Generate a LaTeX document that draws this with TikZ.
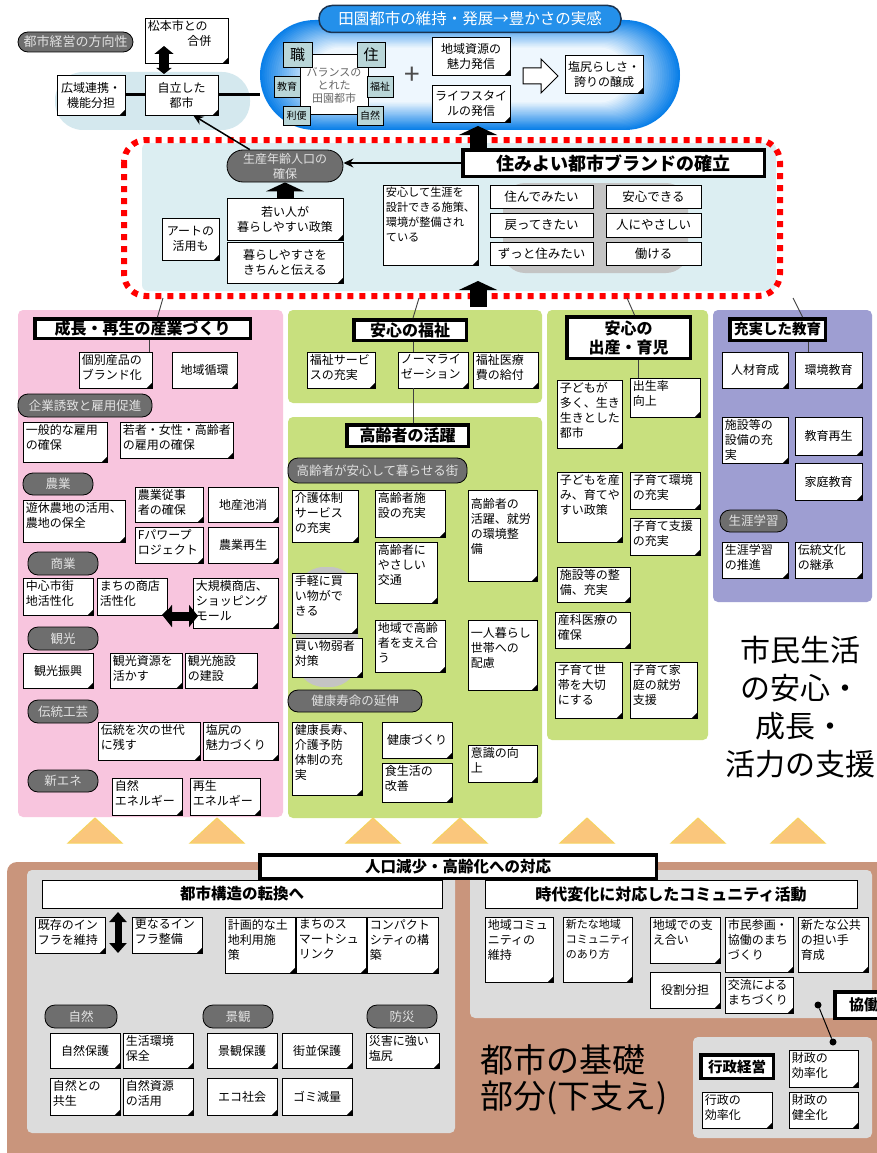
\documentclass[tikz,border=0pt]{standalone}
\usepackage{fontspec}
\setmainfont{Noto Sans CJK JP}
\usetikzlibrary{arrows.meta,calc}
\definecolor{pinkbg}{HTML}{F8C5DE}
\definecolor{greenbg}{HTML}{C8E07E}
\definecolor{purplebg}{HTML}{9E9ED2}
\definecolor{bandbg}{HTML}{DCEEF2}
\definecolor{ellbg}{HTML}{D4E8EE}
\definecolor{brownbg}{HTML}{C9957C}
\definecolor{panelgray}{HTML}{DCDCDC}
\definecolor{pillgray}{HTML}{6E6E6E}
\definecolor{pilltext}{HTML}{E2E2E2}
\definecolor{blobgray}{HTML}{C4C4C4}
\definecolor{trifill}{HTML}{FAC67C}
\definecolor{triline}{HTML}{F5D35E}
\definecolor{cloudout}{HTML}{0A7FE8}
\definecolor{cloudin}{HTML}{EEF7FE}
\definecolor{titleblue}{HTML}{2490EA}
\definecolor{titleline}{HTML}{1A3350}
\definecolor{sqfill}{HTML}{B9D6D8}
\definecolor{dotred}{HTML}{FF0000}
\newcommand\setfs[2]{\fontsize{#1}{#2}\selectfont}
\tikzset{
 notebox/.style={draw=black, fill=white, line width=0.8pt, inner sep=0pt},
 notetext/.style={anchor=north west, align=left, inner xsep=3pt, inner ysep=2.5pt, font=\setfs{12}{15}},
 pillbox/.style={draw=black, fill=pillgray, text=pilltext, rounded corners=10pt, line width=0.8pt, inner sep=0pt, font=\setfs{12.5}{15}, align=center},
 titlebox/.style={draw=black, fill=white, line width=3.5pt, inner sep=0pt, align=center, font=\bfseries\setfs{16}{19}},
 plainbox/.style={draw=black, fill=white, line width=0.8pt, inner sep=0pt, align=center, font=\setfs{12.5}{15}},
 sqbox/.style={draw=black, fill=sqfill, line width=0.9pt, inner sep=0pt, font=\setfs{10}{12}},
 blk/.style={line width=17pt, -{Triangle[length=9pt,width=38pt]}},
 thinlink/.style={draw=black!75, line width=0.9pt},
 panel/.style={rounded corners=5pt},
}
\newcommand\mknote[7][]{%
 \fill ({#3+1.3},{#4+1.3}) rectangle ({#5+1.3},{#6+1.3});
 \node[notebox, minimum width={(#5-#3)*1pt}, minimum height={(#6-#4)*1pt}] (#2) at ({(#3+#5)/2},{(#4+#6)/2}) {};
 \fill ([xshift=-6pt]#2.south east) -- (#2.south east) -- ([yshift=6pt]#2.south east) -- cycle;
 \node[notetext,#1] (#2t) at (#2.north west) {#7};}
\newcommand\mknotec[7][]{%
 \fill ({#3+1.3},{#4+1.3}) rectangle ({#5+1.3},{#6+1.3});
 \node[notebox, align=center, font=\setfs{12}{15}, minimum width={(#5-#3)*1pt}, minimum height={(#6-#4)*1pt}, #1] (#2) at ({(#3+#5)/2},{(#4+#6)/2}) {#7};
 \fill ([xshift=-6pt]#2.south east) -- (#2.south east) -- ([yshift=6pt]#2.south east) -- cycle;}
\newcommand\mkpill[7][]{%
 \node[pillbox, minimum width={(#5-#3)*1pt}, minimum height={(#6-#4)*1pt}, #1] (#2) at ({(#3+#5)/2},{(#4+#6)/2}) {#7};}
\newcommand\mktitle[7][]{%
 \node[titlebox, minimum width={(#5-#3-3.5)*1pt}, minimum height={(#6-#4-3.5)*1pt}, #1] (#2) at ({(#3+#5)/2},{(#4+#6)/2}) {#7};}
\newcommand\mkbox[6]{%
 \fill ({#2+1.3},{#3+1.3}) rectangle ({#4+1.3},{#5+1.3});
 \node[plainbox, minimum width={(#4-#2)*1pt}, minimum height={(#5-#3)*1pt}] (#1) at ({(#2+#4)/2},{(#3+#5)/2}) {#6};}
\begin{document}
\begin{tikzpicture}[x=1pt,y=-1pt]
\useasboundingbox (0,0) rectangle (877,1153);
\fill[white] (0,0) rectangle (877,1153);

% ---------- top area ----------
\fill[ellbg, rounded corners=28pt] (55,72) rectangle (250,130);
\foreach \i in {0,...,24}{
 \pgfmathsetmacro\pc{100*\i/24}
 \pgfmathsetmacro\dx{\i*2.2}
 \pgfmathsetmacro\dy{\i*1.15}
 \pgfmathsetmacro\rr{55-\i*1.15}
 \fill[cloudin!\pc!cloudout, rounded corners=\rr pt] ({260+\dx},{20+\dy}) rectangle ({680-\dx},{130-\dy});
}
\node[minimum width=420pt, minimum height=110pt, inner sep=0pt] (cloud) at (470,75) {};
\node[draw=titleline, fill=titleblue, line width=1.5pt, rounded corners=13pt, minimum width=302pt, minimum height=27pt, text=white, font=\setfs{15.5}{18}, inner sep=0pt] (cloudtitle) at (470,19) {田園都市の維持・発展→豊かさの実感};

\mkpill[font=\setfs{13}{15}]{hoko}{18}{32}{133}{52}{都市経営の方向性}
\mknote{matsumoto}{145}{18}{228}{63}{松本市との\\\hspace*{3.3em}合併}
\mknotec{koiki}{57}{75}{125}{115}{広域連携・\\機能分担}
\mknotec{jiritsu}{145}{75}{218}{115}{自立した\\都市}
\coordinate (mtA) at (164,74);
\coordinate (mtB) at (164,46);
\draw[line width=10pt, {Triangle[length=6pt,width=15pt]}-{Triangle[length=8pt,width=19pt]}] (mtA) -- (mtB);
\draw[line width=3pt] (koiki.east) -- (jiritsu.west);
\draw[line width=3pt] (jiritsu.east) -- (jiritsu.east -| cloud.west);

% balance diagram
\node[draw, fill=white, line width=1pt, minimum width=68pt, minimum height=60pt, align=center, text=black!60, font=\setfs{11}{13}, inner sep=0pt] (bal) at (334,85) {バランスの\\とれた\\田園都市};
\node[sqbox, minimum width=29pt, minimum height=25pt, font=\setfs{15}{15}] (shoku) at (297.5,54.5) {職};
\node[sqbox, minimum width=28pt, minimum height=25pt, font=\setfs{15}{15}] (ju) at (371,54.5) {住};
\node[sqbox, minimum width=26pt, minimum height=21pt] (kyoikusq) at (287,87) {教育};
\node[sqbox, minimum width=26pt, minimum height=21pt] (fukushisq) at (380,87) {福祉};
\node[sqbox, minimum width=27pt, minimum height=19pt] (riben) at (296.5,116) {利便};
\node[sqbox, minimum width=26pt, minimum height=19pt] (shizensq) at (370,116) {自然};
\node[font=\setfs{28}{28}, text=black!70, inner sep=0pt] (plus) at (412,76) {+};
\mknotec{shigen}{432}{37}{510}{75}{地域資源の\\魅力発信}
\mknotec{life}{432}{85}{510}{122}{ライフスタイ\\ルの発信}
\filldraw[fill=white, draw=black, line width=1pt] (523,68) -- (541,68) -- (541,59) -- (558,76) -- (541,93) -- (541,84) -- (523,84) -- cycle;
\mknotec{shiojiri}{565}{55}{643}{93}{塩尻らしさ・\\誇りの醸成}

% ---------- middle band ----------
\fill[bandbg, rounded corners=6pt] (142,143) rectangle (776,291);
\fill[blobgray, rounded corners=22pt] (503,183) rectangle (688,273);
\draw[dotred, line width=6pt, dash pattern=on 6pt off 6pt, rounded corners=22pt] (124,140) rectangle (780,296);

\mktitle[font=\bfseries\setfs{18}{21}]{brand}{461}{148}{766}{178}{住みよい都市ブランドの確立}
\node[pillbox, rounded corners=16pt, minimum width=116pt, minimum height=32pt, font=\setfs{12}{15}] (seisan) at (285,166) {生産年齢人口の\\確保};
\draw[line width=1.5pt, -{Stealth[length=10pt,width=9pt]}] (brand.west) -- (brand.west -| seisan.east);
\draw[line width=1.5pt, -{Stealth[length=10pt,width=9pt]}] (seisan.155) -- (jiritsu.300);
\mknotec{wakai}{227}{198}{343}{240}{若い人が\\暮らしやすい政策}
\mknotec{kurashi}{227}{242}{343}{283}{暮らしやすさを\\きちんと伝える}
\mknotec{art}{162}{218}{219}{260}{アートの\\活用も}
\mknote[font=\setfs{11.2}{15}]{anshin}{383}{185}{478}{265}{安心して生涯を\\設計できる施策、\\環境が整備され\\ている}
\draw[blk] (wakai.north) -- (seisan.south);
\mkbox{sumi}{490}{185}{593}{208}{住んでみたい}
\mkbox{modo}{490}{213}{593}{237}{戻ってきたい}
\mkbox{zutto}{490}{242}{593}{265}{ずっと住みたい}
\mkbox{anshindeki}{606}{185}{701}{208}{安心できる}
\mkbox{yasashii}{606}{213}{701}{237}{人にやさしい}
\mkbox{hataraku}{606}{242}{701}{265}{働ける}
\coordinate (ua1) at (478,152);
\coordinate (ua2) at (478,126);
\draw[blk] (ua1) -- (ua2);

% ---------- panels ----------
\fill[pinkbg, panel] (18,310) rectangle (283,817);
\fill[greenbg, panel] (288,310) rectangle (542,403);
\fill[greenbg, panel] (288,417) rectangle (542,818);
\fill[greenbg, panel] (547,310) rectangle (708,740);
\fill[purplebg, panel] (713,310) rectangle (872,602);
\coordinate (ub1) at (478,307);
\coordinate (ub2) at (478,281);
\draw[blk] (ub1) -- (ub2);

% ---------- pink column ----------
\mktitle{sangyo}{33}{317}{252}{340}{成長・再生の産業づくり}
\coordinate (pc0) at (163,298);
\draw[thinlink] (pc0) -- ($(sangyo.north)+(15,0)$);
\mknote{kobetsu}{79}{352}{152}{388}{個別産品の\\ブランド化}
\draw[thinlink] ($(kobetsu.north east)+(-3,0)$) -- ($(kobetsu.north east |- sangyo.south)+(-3,0)$);
\mknotec{junkan}{172}{352}{237}{388}{地域循環}
\mkpill{kigyo}{18}{394}{152}{417}{企業誘致と雇用促進}
\mknote{ippan}{23}{422}{107}{462}{一般的な雇用\\の確保}
\mknote{wakamono}{120}{422}{233}{458}{若者・女性・高齢者\\の雇用の確保}
\mkpill{nogyo}{23}{473}{93}{495}{農業}
\mknote{yukyu}{23}{500}{125}{542}{遊休農地の活用、\\農地の保全}
\mknote{jujisha}{135}{487}{203}{522}{農業従事\\者の確保}
\mknotec{chisan}{208}{487}{278}{522}{地産池消}
\mknote{fpower}{135}{527}{203}{563}{Fパワープ\\ロジェクト}
\mknotec{saisei}{208}{527}{278}{563}{農業再生}
\mkpill{shogyo}{28}{552}{98}{575}{商業}
\mknote{chushin}{23}{578}{93}{615}{中心市街\\地活性化}
\mknote{shoten}{97}{578}{167}{615}{まちの商店\\活性化}
\mknote{daikibo}{193}{578}{278}{628}{大規模商店、\\ショッピング\\モール}
\coordinate (da1) at (163,616);
\coordinate (da2) at (198,616);
\draw[line width=9pt, {Triangle[length=9pt,width=22pt]}-{Triangle[length=9pt,width=22pt]}] (da1) -- (da2);
\mkpill{kanko}{28}{627}{98}{650}{観光}
\mknotec{shinko}{23}{653}{93}{688}{観光振興}
\mknote{shigenk}{110}{653}{182}{688}{観光資源を\\活かす}
\mknote{shisetsu}{185}{653}{257}{688}{観光施設\\の建設}
\mkpill{dento}{28}{700}{98}{723}{伝統工芸}
\mknote{tsugi}{98}{722}{200}{760}{伝統を次の世代\\に残す}
\mknote{miryoku}{203}{722}{278}{760}{塩尻の\\魅力づくり}
\mkpill{shinene}{28}{770}{98}{792}{新エネ}
\mknote{shizene}{112}{778}{182}{815}{自然\\エネルギー}
\mknote{saiseie}{190}{778}{260}{815}{再生\\エネルギー}

% ---------- green column (welfare) ----------
\mktitle{fukushi}{352}{318}{468}{342}{安心の福祉}
\coordinate (gc0) at (419,298);
\draw[thinlink] (gc0) -- ($(fukushi.north)+(3,0)$);
\mknote{fservice}{307}{352}{375}{388}{福祉サービ\\スの充実}
\mknote{noma}{398}{352}{468}{388}{ノーマライ\\ゼーション}
\mknote{iryo}{473}{352}{538}{388}{福祉医療\\費の給付}
\draw[thinlink] ($(fukushi.south)+(3,0)$) -- ($(fukushi.south |- noma.north)+(3,0)$);

\mktitle{katsuyaku}{345}{423}{470}{448}{高齢者の活躍}
\draw[thinlink] ($(noma.south -| fukushi.south)+(3,0)$) -- ($(katsuyaku.north -| fukushi.south)+(3,0)$);
\mkpill{machi}{288}{458}{467}{483}{高齢者が安心して暮らせる街}
\fill[blobgray, rounded corners=28pt] (296,567) rectangle (358,687);
\mknote{kaigo}{292}{490}{358}{542}{介護体制\\サービス\\の充実}
\mknote{shisetsuk}{375}{490}{445}{537}{高齢者施\\設の充実}
\mknote[inner ysep=9pt]{shuro}{468}{490}{537}{581}{高齢者の\\活躍、就労\\の環境整\\備}
\mknote{kotsu}{375}{542}{437}{603}{高齢者に\\やさしい\\交通}
\mknote{tegaru}{292}{573}{357}{633}{手軽に買\\い物がで\\きる}
\mknote{jakusha}{292}{638}{362}{677}{買い物弱者\\対策}
\mknote{sasae}{375}{620}{445}{672}{地域で高齢\\者を支え合\\う}
\mknote[inner ysep=8pt]{hitori}{468}{620}{537}{690}{一人暮らし\\世帯への\\配慮}
\mkpill{kenko}{288}{690}{422}{712}{健康寿命の延伸}
\mknote{choju}{292}{722}{362}{795}{健康長寿、\\介護予防\\体制の充\\実}
\mknotec{kenkozukuri}{382}{722}{452}{758}{健康づくり}
\mknote{shoku}{382}{763}{452}{802}{食生活の\\改善}
\mknote{ishiki}{468}{745}{537}{782}{意識の向\\上}

% ---------- green column (birth) ----------
\mktitle{shussan}{565}{315}{692}{360}{安心の\\出産・育児}
\coordinate (sc0) at (627,298);
\draw[thinlink] (sc0) -- ($(shussan.north)+(6,0)$);
\mknote{kodomo}{557}{380}{622}{448}{子どもが\\多く、生き\\生きとした\\都市}
\mknote{shussei}{630}{378}{700}{417}{出生率\\向上}
\draw[thinlink] ($(shussan.south)+(9.5,0)$) -- ($(shussan.south |- shussei.north)+(9.5,0)$);
\mknote{umi}{557}{472}{622}{542}{子どもを産\\み、育てや\\すい政策}
\mknote{kankyo}{630}{472}{700}{509}{子育て環境\\の充実}
\mknote{shien}{630}{518}{700}{555}{子育て支援\\の充実}
\mknote{seibi}{557}{567}{630}{602}{施設等の整\\備、充実}
\mknote{sanka}{555}{612}{630}{648}{産科医療の\\確保}
\mknote{setai}{555}{662}{622}{718}{子育て世\\帯を大切\\にする}
\mknote{shuro2}{630}{662}{697}{718}{子育て家\\庭の就労\\支援}

% ---------- purple column ----------
\mktitle[font=\bfseries\setfs{14.5}{17}]{kyoiku}{728}{317}{827}{342}{充実した教育}
\coordinate (kc0) at (793,298);
\draw[thinlink] (kc0) -- ($(kyoiku.north)+(25,0)$);
\mknotec{jinzai}{722}{352}{788}{388}{人材育成}
\mknotec{kankyokyo}{795}{352}{862}{388}{環境教育}
\draw[thinlink] ($(kyoiku.south)+(30.5,0)$) -- ($(kyoiku.south |- kankyokyo.north)+(30.5,0)$);
\mknote{setsubi}{722}{417}{788}{463}{施設等の\\設備の充\\実}
\mknotec{saisei2}{795}{417}{862}{455}{教育再生}
\mknotec{katei}{795}{463}{862}{500}{家庭教育}
\mkpill{shogai}{720}{510}{787}{532}{生涯学習}
\mknote{suishin}{722}{542}{788}{578}{生涯学習\\の推進}
\mknote{keisho}{795}{542}{862}{578}{伝統文化\\の継承}

\node[align=center, font=\setfs{30}{38}, inner sep=0pt] (shimin) at (800,707) {市民生活\\の安心・\\成長・\\活力の支援};

% ---------- triangles ----------
\foreach \cx in {95,217,373,460,587,698,798}{
 \filldraw[fill=trifill, draw=triline, line width=1pt] ({\cx-27},843) -- (\cx,818) -- ({\cx+27},843) -- cycle;}

% ---------- bottom ----------
\fill[brownbg, rounded corners=10pt] (7,862) rectangle (895,1170);
\fill[panelgray, panel] (27,870) rectangle (455,1133);
\fill[panelgray, panel] (470,870) rectangle (872,1018);
\mktitle[font=\bfseries\setfs{15.5}{18}]{jinko}{258}{853}{658}{880}{人口減少・高齢化への対応}
\node[plainbox, minimum width=400pt, minimum height=28pt, font=\bfseries\setfs{15.5}{18}] (toshi) at (242,894) {都市構造の転換へ};
\node[plainbox, minimum width=372pt, minimum height=28pt, font=\bfseries\setfs{16}{18}] (jidai) at (671,894) {時代変化に対応したコミュニティ活動};

\mknote{kizon}{35}{917}{105}{953}{既存のイン\\フラを維持}
\mknote{sara}{132}{917}{202}{953}{更なるイン\\フラ整備}
\coordinate (va1) at (118,912);
\coordinate (va2) at (118,953);
\draw[line width=7pt, {Triangle[length=10pt,width=17pt]}-{Triangle[length=10pt,width=17pt]}] (va1) -- (va2);
\mknote{keikaku}{225}{917}{295}{973}{計画的な土\\地利用施\\策}
\mknote{smart}{296}{917}{366}{973}{まちのス\\マートシュ\\リンク}
\mknote{compact}{367}{917}{438}{973}{コンパクト\\シティの構\\築}
\mkpill{shizenp}{45}{1005}{117}{1028}{自然}
\mkpill{keikanp}{203}{1005}{273}{1028}{景観}
\mkpill{bosai}{367}{1005}{437}{1028}{防災}
\mknotec{hogo}{50}{1033}{120}{1068}{自然保護}
\mknote{seikatsu}{123}{1033}{193}{1068}{生活環境\\保全}
\mknotec{keikanh}{207}{1033}{277}{1068}{景観保護}
\mknotec{machinami}{282}{1033}{352}{1068}{街並保護}
\mknote{saigai}{366}{1033}{439}{1068}{災害に強い\\塩尻}
\mknote{kyosei}{50}{1078}{120}{1115}{自然との\\共生}
\mknote{katsuyo}{123}{1078}{193}{1115}{自然資源\\の活用}
\mknotec{eco}{207}{1078}{277}{1115}{エコ社会}
\mknotec{gomi}{282}{1078}{352}{1115}{ゴミ減量}

\mknote{comm}{485}{917}{553}{982}{地域コミュ\\ニティの\\維持}
\mknote[font=\setfs{11}{15}]{aratana}{563}{917}{632}{982}{新たな地域\\コミュニティ\\のあり方}
\mknote{sasaeai}{650}{917}{720}{963}{地域での支\\え合い}
\mknote{sankaku}{725}{917}{793}{972}{市民参画・\\協働のまち\\づくり}
\mknote{kokyo}{798}{917}{868}{972}{新たな公共\\の担い手\\育成}
\mknotec{yakuwari}{650}{972}{720}{1008}{役割分担}
\mknote{koryu}{725}{977}{793}{1013}{交流による\\まちづくり}
\mktitle[font=\bfseries\setfs{15}{18}]{kyodo}{833}{990}{895}{1020}{協働}

\fill[panelgray, panel] (693,1037) rectangle (872,1138);
\node[circle, fill=black, inner sep=0pt, minimum size=7pt] (dot1) at (818,1005) {};
\node[circle, fill=black, inner sep=0pt, minimum size=7pt] (dot2) at (833,1042) {};
\draw[line width=1pt] (dot1) -- (dot2);
\mktitle[font=\bfseries\setfs{14.5}{17}]{gyosei}{699}{1053}{775}{1080}{行政経営}
\mknote{zaisei1}{789}{1050}{858}{1087}{財政の\\効率化}
\mknote{gyosei2}{702}{1092}{772}{1128}{行政の\\効率化}
\mknote{zaisei2}{789}{1092}{858}{1128}{財政の\\健全化}

\node[anchor=west, align=left, font=\setfs{33}{36}, inner sep=0pt] (kiso) at (480,1080) {都市の基礎\\部分(下支え)};
\end{tikzpicture}
\end{document}
